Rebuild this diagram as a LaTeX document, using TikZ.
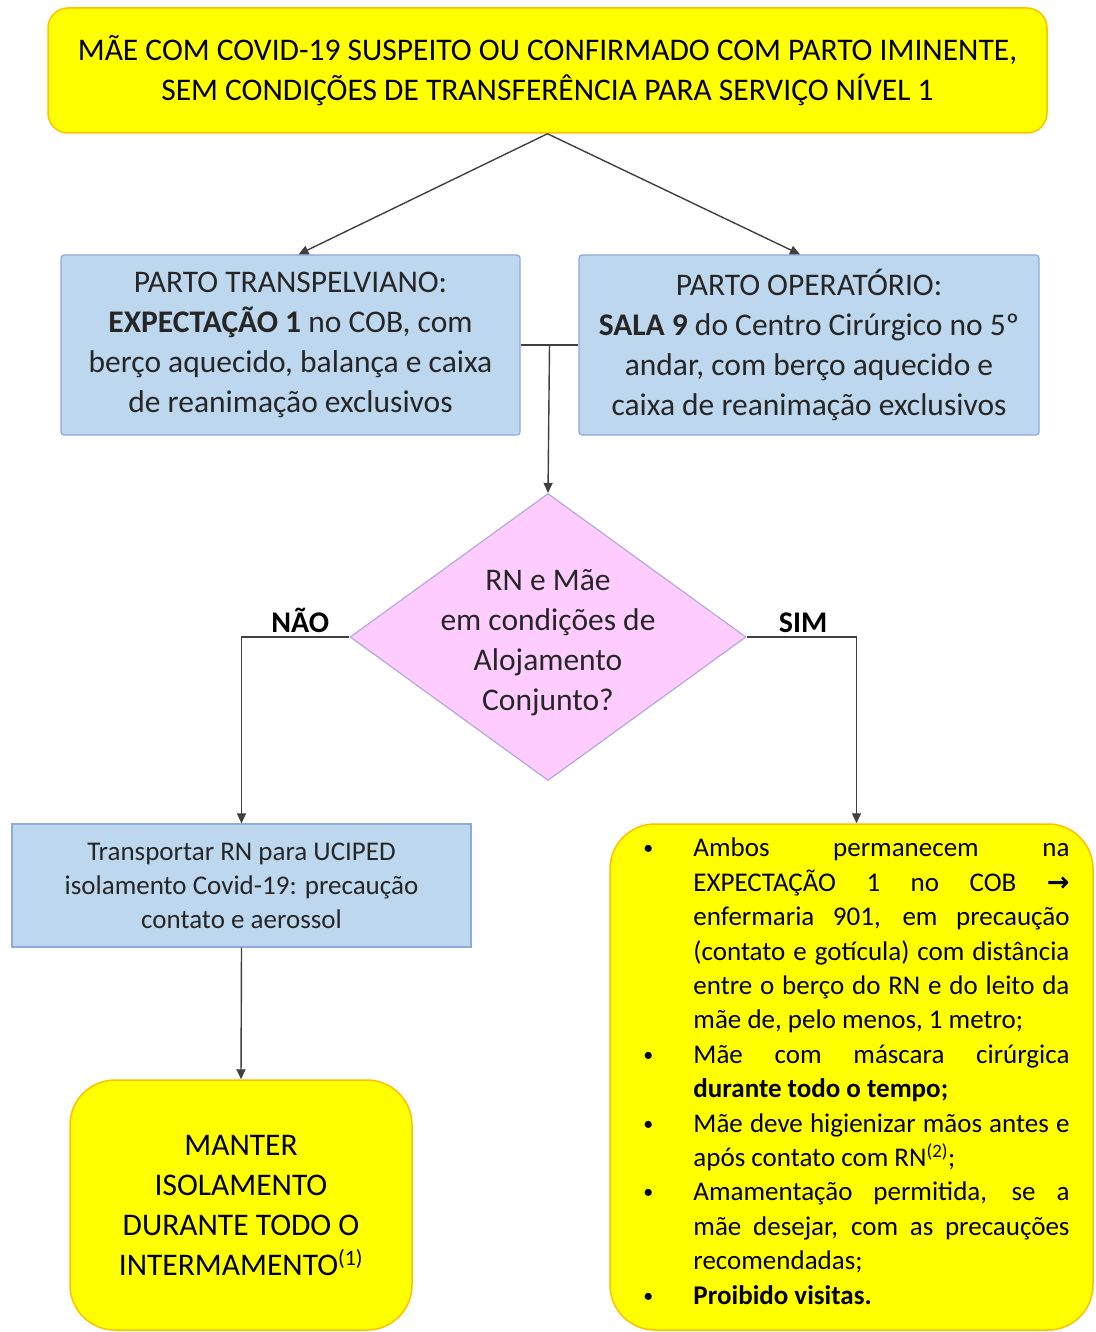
\documentclass[tikz,border=0pt]{standalone}
\usepackage{fontspec}
\setmainfont{Carlito}
\newfontfamily\simbolo{DejaVu Sans}
\usetikzlibrary{positioning,calc,shapes.geometric,arrows.meta}
\definecolor{amarelo}{HTML}{FFFF00}
\definecolor{laranja}{HTML}{FFC000}
\definecolor{azul}{HTML}{BDD7EE}
\definecolor{azulborda}{HTML}{8FAADC}
\definecolor{rosa}{HTML}{FFCCFF}
\definecolor{lilas}{HTML}{B4A7E6}
\definecolor{linha}{HTML}{404040}
\newcommand\marcador[1]{\hspace{4pt}#1\hfil}
\tikzset{>={Triangle[length=10pt,width=9pt]}}
\tikzset{
  amarela/.style={draw=laranja,fill=amarelo,line width=1.5pt,rounded corners=#1},
  amarela/.default=20pt,
  caixa/.style={draw=azulborda,fill=azul,line width=1.2pt,align=center,text=black!85},
  decisao/.style={diamond,draw=lilas,fill=rosa,line width=1.2pt,inner sep=0pt},
  fio/.style={draw=linha,line width=1.4pt},
  rotulo/.style={font=\fontsize{30}{36}\selectfont\bfseries,inner sep=0pt}
}

\begin{document}
\begin{tikzpicture}[x=1pt,y=-1pt]
\useasboundingbox[fill=white] (0,0) rectangle (1095,1332);
\node[amarela, minimum width=999, minimum height=125, align=center,
  font=\fontsize{31.5}{40}\selectfont] (mae) at (547.5,70.5)
  {MÃE COM COVID-19 SUSPEITO OU CONFIRMADO COM PARTO IMINENTE,\\
   SEM CONDIÇÕES DE TRANSFERÊNCIA PARA SERVIÇO NÍVEL 1};
\node[caixa, minimum width=459, minimum height=180, rounded corners=3pt,
  font=\fontsize{31.5}{40}\selectfont] (pl) at (290.5,345)
  {PARTO TRANSPELVIANO:\\\textbf{EXPECTAÇÃO 1} no COB, com\\
   berço aquecido, balança e caixa\\de reanimação exclusivos};
\node[caixa, minimum width=460, minimum height=180, rounded corners=3pt,
  font=\fontsize{31.5}{40}\selectfont] (po) at (809,345)
  {PARTO OPERATÓRIO:\\\textbf{SALA 9} do Centro Cirúrgico no 5º\\
   andar, com berço aquecido e\\caixa de reanimação exclusivos};
\node[decisao, minimum width=396, minimum height=287] (q) at (548,637) {};
\node[align=center, inner sep=0pt, text=black!85, font=\fontsize{31.5}{40}\selectfont]
  (qt) at (548,643) {RN e Mãe\\em condições de\\Alojamento\\Conjunto?};
\node[rotulo, above left=4pt and 20pt of q.west] (nao) {NÃO};
\node[rotulo, above right=4pt and 32pt of q.east] (sim) {SIM};
\node[caixa, minimum width=459, minimum height=123,
  font=\fontsize{27}{34}\selectfont] (tr) at (241.5,885.5)
  {Transportar RN para UCIPED\\isolamento Covid-19: precaução\\contato e aerossol};
\node[amarela=45pt, minimum width=342, minimum height=250, align=center,
  font=\fontsize{31.5}{40}\selectfont] (man) at (241,1205)
  {MANTER\\ISOLAMENTO\\DURANTE TODO O\\INTERMAMENTO\textsuperscript{(1)}};
\node[amarela=45pt, minimum width=483, minimum height=506] (amb) at (851.5,1077) {};
\node[anchor=north west, inner sep=0pt, text width=430, align=justify,
  font=\fontsize{27}{34.4}\selectfont] (ambtxt) at ([shift={(30,-1)}]amb.north west)
  {\hyphenpenalty=10000
  \begin{list}{\raisebox{2pt}{\fontsize{20}{20}\selectfont\textbullet}}{\setlength\leftmargin{54pt}\setlength\labelwidth{54pt}%
    \setlength\labelsep{0pt}\setlength\itemsep{0pt}\setlength\parsep{0pt}%
    \setlength\topsep{0pt}\setlength\partopsep{0pt}\let\makelabel\marcador}
  \item Ambos permanecem na\linebreak EXPECTAÇÃO 1 no COB {\simbolo\bfseries →}\linebreak
    enfermaria 901, em precaução\linebreak (contato e gotícula) com distância\linebreak
    entre o berço do RN e do leito da\linebreak mãe de, pelo menos, 1 metro;
  \item Mãe com máscara cirúrgica\linebreak \textbf{durante todo o tempo;}
  \item Mãe deve higienizar mãos antes e\linebreak após contato com RN\textsuperscript{(2)};
  \item Amamentação permitida, se a\linebreak mãe desejar, com as precauções\linebreak
    recomendadas;
  \item \textbf{Proibido visitas.}
  \end{list}};
\coordinate (m) at ($(pl.east)!.5!(po.west)$);
\draw[fio,->] (mae.south) -- ([xshift=8]pl.north);
\draw[fio,->] (mae.south) -- ([xshift=-9]po.north);
\draw[fio] (pl.east) -- (po.west);
\draw[fio,->] (m) -- (q.north);
\draw[fio,->] (q.west) -| (tr.north);
\draw[fio,->] (q.east) -| ([xshift=5]amb.north);
\draw[fio,->] (tr.south) -- (man.north);
\end{tikzpicture}
\end{document}
